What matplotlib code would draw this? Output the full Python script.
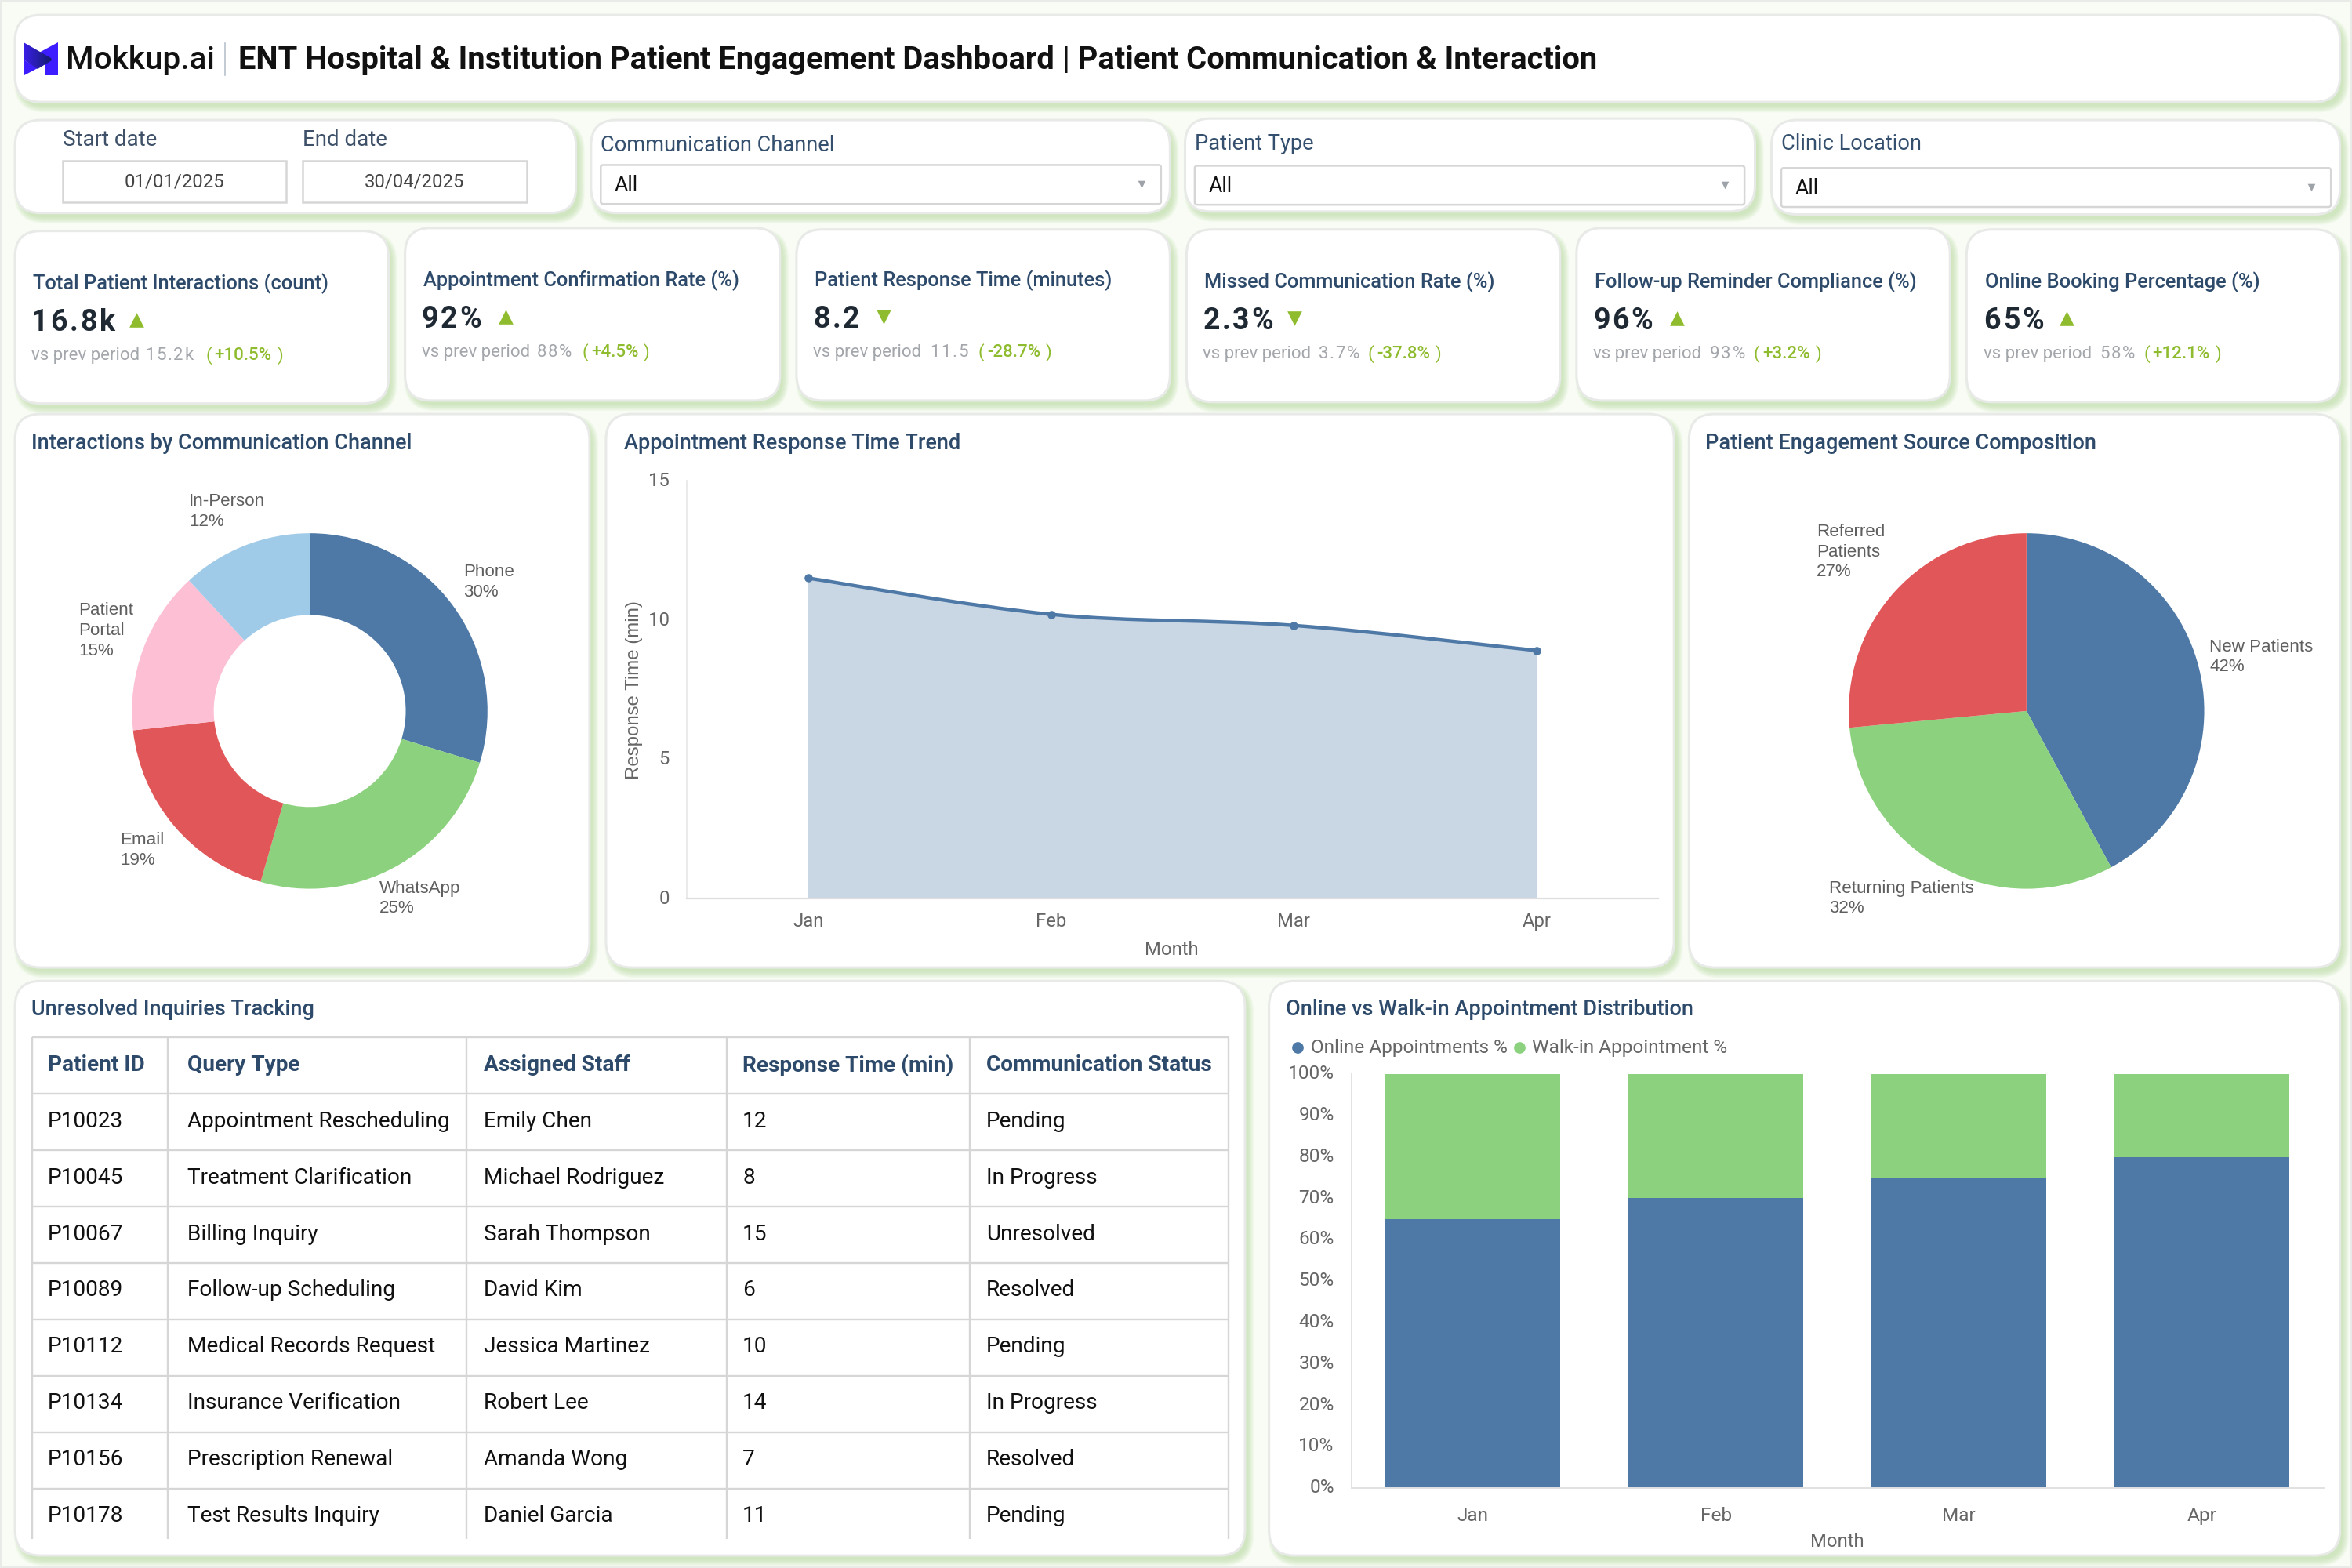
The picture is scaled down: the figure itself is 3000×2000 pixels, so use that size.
import numpy as np
import matplotlib
matplotlib.use("Agg")
import matplotlib.pyplot as plt
from matplotlib.patches import FancyBboxPatch, Rectangle, PathPatch, Polygon
from matplotlib.path import Path
from matplotlib.transforms import ScaledTranslation

plt.rcParams['font.family'] = ['Roboto', 'DejaVu Sans']

# data
kpi_titles = ["Total Patient Interactions (count)", "Appointment Confirmation Rate (%)",
              "Patient Response Time (minutes)", "Missed Communication Rate (%)",
              "Follow-up Reminder Compliance (%)", "Online Booking Percentage (%)"]
kpi_values = ["16.8k", "92%", "8.2", "2.3%", "96%", "65%"]
kpi_prev = ["15.2k", "88%", "11.5", "3.7%", "93%", "58%"]
kpi_change = ["+10.5%", "+4.5%", "-28.7%", "-37.8%", "+3.2%", "+12.1%"]
kpi_up = [True, True, False, False, True, True]

channel_names = ["Phone", "WhatsApp", "Email", "Patient\nPortal", "In-Person"]
channel_share = [30, 25, 19, 15, 12]
source_names = ["New Patients", "Returning Patients", "Referred\nPatients"]
source_share = [42.1, 31.4, 26.5]  # slice sizes as drawn
source_labels = ["42%", "32%", "27%"]  # as printed on the chart

months = ["Jan", "Feb", "Mar", "Apr"]
response_time = [11.5, 10.2, 9.8, 8.9]
online_pct = [65, 70, 75, 80]
walkin_pct = [35, 30, 25, 20]

table_header = ["Patient ID", "Query Type", "Assigned Staff", "Response Time (min)", "Communication Status"]
patient_ids = ["P10023", "P10045", "P10067", "P10089", "P10112", "P10134", "P10156", "P10178"]
query_types = ["Appointment Rescheduling", "Treatment Clarification", "Billing Inquiry", "Follow-up Scheduling",
               "Medical Records Request", "Insurance Verification", "Prescription Renewal", "Test Results Inquiry"]
staff = ["Emily Chen", "Michael Rodriguez", "Sarah Thompson", "David Kim",
         "Jessica Martinez", "Robert Lee", "Amanda Wong", "Daniel Garcia"]
resp_min = [12, 8, 15, 6, 10, 14, 7, 11]
status = ["Pending", "In Progress", "Unresolved", "Resolved", "Pending", "In Progress", "Resolved", "Pending"]

# colours
BLUE = "#4E79A7"
GREEN = "#8CD17D"
RED = "#E15759"
PINK = "#FCBFD3"
SKY = "#A0CBE8"
NAVY = "#2D4A6B"
ARROW = "#8FBC2E"
GRID = "#D6D6D6"

S = 3000 / 1568  # layout below is measured on a 1568 wide view

fig = plt.figure(figsize=(15, 10), dpi=200, facecolor="#F8FCF4")
page = fig.add_axes([0, 0, 1, 1])
page.set_xlim(0, 3000)
page.set_ylim(2000, 0)
page.axis("off")
page.add_patch(Rectangle((1, 1), 2998, 1998, fc="none", ec="#E8EBE7", lw=1.4))


def card(x0, y0, x1, y1, r=17):
    x0, y0, x1, y1, r = x0 * S, y0 * S, x1 * S, y1 * S, r * S
    w, h = x1 - x0, y1 - y0
    for k in range(7, 0, -1):
        grow = k * 1.3 - 3
        page.add_patch(FancyBboxPatch((x0 + 5 - grow, y0 + 7 - grow), w + 2 * grow, h + 2 * grow,
                                      boxstyle=f"round,pad=0,rounding_size={r + grow}",
                                      fc="#B5D89A", ec="none", alpha=0.11))
    page.add_patch(FancyBboxPatch((x0, y0), w, h, boxstyle=f"round,pad=0,rounding_size={r}",
                                  fc="white", ec="#E8EAE8", lw=1.1))


def txt(x, y, s, size=9, color="black", weight="normal", ha="left", va="center", family=None, **kw):
    if family is not None:
        kw["family"] = family
    return page.text(x * S, y * S, s, fontsize=size, color=color, fontweight=weight, ha=ha, va=va, **kw)


def spaced(x, y, s, gap, **kw):
    # letter-spaced text, one char at a time
    rend = fig.canvas.get_renderer()
    px = x * S
    for ch in s:
        t = txt(px / S, y, ch, **kw)
        px += t.get_window_extent(rend).width + gap
    return px / S


# cards
for box in [(10, 10, 1560, 68), (10, 80, 384, 142), (394, 80, 780, 142), (790, 79, 1170, 141), (1181, 80, 1560, 143),
            (10, 154, 259, 269), (270, 152, 520, 267), (531, 153, 780, 267), (791, 153, 1040, 268),
            (1051, 152, 1300, 267), (1311, 153, 1560, 268),
            (10, 276, 393, 645), (404, 276, 1116, 645), (1126, 276, 1560, 645),
            (10, 654, 830, 1037), (846, 654, 1560, 1037)]:
    card(*box)

# logo and header
grad = np.linspace(0, 1, 64).reshape(1, -1)
cm = matplotlib.colors.LinearSegmentedColormap.from_list("logo", ["#3A1FE8", "#141B6B"])
page.add_patch(Polygon([(74, 54), (74, 96), (58, 96), (58, 80), (50, 67)], fc="#3D1CFF", ec="none"))
page.add_patch(Polygon([(30, 76), (48, 87), (31, 96), (30, 95)], fc="#3D1CFF", ec="none"))
logo = Polygon([(30, 54), (65, 74), (66, 77), (48, 88), (30, 76)], transform=page.transData, fc="none", ec="none")
page.add_patch(logo)
im = page.imshow(grad, extent=(30, 66, 88, 54), cmap=cm, aspect="auto", zorder=3)
im.set_clip_path(logo)
page.set_xlim(0, 3000)
page.set_ylim(2000, 0)

txt(44, 40, "Mokkup.ai", size=14.6, weight="medium", color="#111111")
page.plot([150 * S, 150 * S], [29 * S, 50 * S], color="#B8C2CC", lw=0.6)
txt(159, 40, "ENT Hospital & Institution Patient Engagement Dashboard | Patient Communication & Interaction",
    size=14.38, weight="bold", color="#111111")

# date and filter slicers
for x, label, val in zip([42, 202], ["Start date", "End date"], ["01/01/2025", "30/04/2025"]):
    txt(x, 93.5, label, size=10, color="#3E5168")
    page.add_patch(Rectangle((x * S, 107 * S), 149 * S, 28 * S, fc="white", ec=GRID, lw=0.9))
    txt(x + 74.5, 121, val, size=8.6, color="#444444", ha="center")

filter_names = ["Communication Channel", "Patient Type", "Clinic Location"]
filter_x = [(400.5, 774), (796.5, 1163), (1187.5, 1554)]
filter_y = [(110, 136), (110.5, 136.5), (112, 138)]
filter_label_y = [97, 96, 96]
for name, (xa, xb), (ya, yb), ly in zip(filter_names, filter_x, filter_y, filter_label_y):
    txt(xa, ly, name, size=9.8, color="#34506E")
    page.add_patch(FancyBboxPatch((xa * S, ya * S), (xb - xa) * S, (yb - ya) * S,
                                  boxstyle="round,pad=0,rounding_size=3", fc="white", ec=GRID, lw=0.9))
    txt(xa + 9, (ya + yb) / 2 + 0.5, "All", size=9.6, color="#111111")
    page.scatter([(xb - 13) * S], [(ya + yb) / 2 * S], marker="v", s=12, color="#9EA2A9", linewidths=0)

# kpi cards
kpi_x = [22, 282, 543, 803, 1063, 1323.5]
kpi_title_y = [188.5, 186.5, 186.5, 187.5, 187.5, 187.5]
kpi_arrow_x = [91, 337, 589, 863, 1118, 1378]
kpi_prev_x = [97, 358, 620, 879, 1140, 1400]
kpi_change_x = [137, 388, 652, 912, 1169, 1429]
rend = fig.canvas.get_renderer()
for i in range(6):
    x, y = kpi_x[i], kpi_title_y[i]
    txt(x, y + 0.5, kpi_titles[i], size=9.15, weight="medium", color=NAVY)
    spaced(x - 1, y + 26.5, kpi_values[i], 2.8, size=13.5, weight="bold", color="#1F2933")
    page.scatter([kpi_arrow_x[i] * S], [(y + 24.5) * S], marker="^" if kpi_up[i] else "v", s=45,
                 color=ARROW, linewidths=0)
    txt(x - 1, y + 48.5, "vs prev period", size=8, color="#A3A6AB")
    spaced(kpi_prev_x[i], y + 48.5, kpi_prev[i], 1.6, size=8, color="#A3A6AB")
    txt(kpi_change_x[i], y + 48.5, "(", size=8, color=ARROW)
    change = txt(kpi_change_x[i] + 6, y + 48.5, kpi_change[i], size=8, weight="medium", color=ARROW)
    end = change.get_window_extent(rend).x1 / S
    txt(end + 3.5, y + 48.5, ")", size=8, color=ARROW)

# panel titles
panel_titles = ["Interactions by Communication Channel", "Appointment Response Time Trend",
                "Patient Engagement Source Composition", "Unresolved Inquiries Tracking",
                "Online vs Walk-in Appointment Distribution"]
panel_pos = [(21, 295.5), (416, 295.5), (1137, 295.5), (21, 673), (857, 673)]
for name, (x, y) in zip(panel_titles, panel_pos):
    txt(x, y, name, size=9.76, weight="medium", color=NAVY)


def inset(x0, y0, x1, y1):
    # chart axes placed by view coordinates
    a = fig.add_axes([x0 * S / 3000, 1 - y1 * S / 2000, (x1 - x0) * S / 3000, (y1 - y0) * S / 2000])
    a.patch.set_alpha(0)
    return a


def nudge_ylabels(a, pts):
    for lab in a.get_yticklabels():
        lab.set_transform(lab.get_transform() + ScaledTranslation(0, pts / 72, fig.dpi_scale_trans))


LAB = "Liberation Sans"

# donut
ax1 = inset(206.5 - 118.5, 474 - 118.5, 206.5 + 118.5, 474 + 118.5)
ax1.pie(channel_share, colors=[BLUE, GREEN, RED, PINK, SKY], startangle=90, counterclock=False,
        radius=1, wedgeprops=dict(width=0.46))
ax1.set_xlim(-1, 1)
ax1.set_ylim(-1, 1)
channel_label_pos = [(309, 388), (253, 599), (80, 567), (52.5, 420.5), (126, 341)]
for name, share, (x, y) in zip(channel_names, channel_share, channel_label_pos):
    txt(x, y, f"{name}\n{share}%", size=8.05, color="#5F5F5F", family=LAB, linespacing=1.3)

# source pie
ax3 = inset(1351 - 118.5, 474 - 118.5, 1351 + 118.5, 474 + 118.5)
ax3.pie(source_share, colors=[BLUE, GREEN, RED], startangle=90, counterclock=False, radius=1)
ax3.set_xlim(-1, 1)
ax3.set_ylim(-1, 1)
source_label_pos = [(1473, 438), (1219.5, 599), (1211, 368)]
for name, share, (x, y) in zip(source_names, source_labels, source_label_pos):
    txt(x, y, f"{name}\n{share}", size=8.05, color="#5F5F5F", family=LAB, linespacing=1.3)


def smooth_path(xs, ys):
    # catmull-rom style bezier through the points, like the curved line of the original
    pts = np.column_stack([xs, ys]).astype(float)
    verts, codes = [pts[0]], [Path.MOVETO]
    for i in range(len(pts) - 1):
        before = pts[max(i - 1, 0)]
        after = pts[min(i + 2, len(pts) - 1)]
        verts += [pts[i] + (pts[i + 1] - before) / 6, pts[i + 1] - (after - pts[i]) / 6, pts[i + 1]]
        codes += [Path.CURVE4] * 3
    return np.array(verts), codes


# area chart
ax2 = inset(457.8, 320.4, 1105.5, 599)
xs = np.arange(len(months))
v, c = smooth_path(xs, response_time)
fill_verts = np.vstack([v, [[xs[-1], 0], [xs[0], 0], [xs[0], response_time[0]]]])
ax2.add_patch(PathPatch(Path(fill_verts, c + [Path.LINETO] * 3), fc="#C9D6E4", ec="none"))
ax2.add_patch(PathPatch(Path(v, c), fc="none", ec=BLUE, lw=1.6))
ax2.plot(xs, response_time, "o", color=BLUE, ms=3.8, mec="none")
ax2.set_xlim(-0.5, 3.5)
ax2.set_ylim(0, 15)
ax2.set_xticks(xs, months)
ax2.set_yticks([0, 5, 10, 15])
ax2.tick_params(length=0, labelsize=8.6, labelcolor="#666666")
ax2.tick_params(axis="x", pad=6.5)
ax2.tick_params(axis="y", pad=8)
nudge_ylabels(ax2, 0.7)
for s in ["top", "right"]:
    ax2.spines[s].set_visible(False)
ax2.spines["left"].set_color("#E6E6E6")
ax2.spines["bottom"].set_color("#DEDEDE")
ax2.spines["left"].set_linewidth(0.6)
ax2.spines["bottom"].set_linewidth(0.8)
txt(781, 633, "Month", size=8.6, color="#666666", ha="center")
txt(423, 460, "Response Time (min)", size=8.65, color="#666666", ha="center", rotation=90, family=LAB)

# table
col_lines = [21.5, 112, 311, 484.5, 646.5, 819]
row_lines = [691.5, 729] + [729 + 37.63 * k for k in range(1, 8)]
table_top, table_clip = 691.5, 1026
col_x = [32, 125, 322.5, 495, 657.5]
for x in col_lines:
    page.plot([x * S, x * S], [table_top * S, table_clip * S], color=GRID, lw=0.85, solid_capstyle="butt")
for y in row_lines:
    page.plot([col_lines[0] * S, col_lines[-1] * S], [y * S, y * S], color=GRID, lw=0.85, solid_capstyle="butt")
for x, name in zip(col_x, table_header):
    txt(x, 710, name, size=10.08, weight="bold", color=NAVY)
for r in range(len(patient_ids)):
    y = 747.5 + 37.6 * r
    row = [patient_ids[r], query_types[r], staff[r], str(resp_min[r]), status[r]]
    for x, cell in zip(col_x, row):
        txt(x, y, cell, size=10.1, color="#111111")

# stacked bars
ax5 = inset(901, 716, 1549, 992)
bx = np.arange(len(months))
ax5.bar(bx, online_pct, width=0.72, color=BLUE, label="Online Appointments %")
ax5.bar(bx, walkin_pct, width=0.72, bottom=online_pct, color=GREEN, label="Walk-in Appointment %")
ax5.set_xlim(-0.5, 3.5)
ax5.set_ylim(0, 100)
ax5.set_xticks(bx, months)
ax5.set_yticks(range(0, 101, 10), [f"{p}%" for p in range(0, 101, 10)])
ax5.tick_params(length=0, labelsize=8.8, labelcolor="#666666")
ax5.tick_params(axis="x", pad=8.6)
ax5.tick_params(axis="y", pad=8)
nudge_ylabels(ax5, 1.0)
for s in ["top", "right"]:
    ax5.spines[s].set_visible(False)
ax5.spines["left"].set_color("#E2E2E2")
ax5.spines["bottom"].set_color("#E2E2E2")
ax5.spines["left"].set_linewidth(0.7)
ax5.spines["bottom"].set_linewidth(0.7)
txt(1225, 1028, "Month", size=8.6, color="#666666", ha="center")

legend_pos = [(865, 874), (1013, 1021.5)]
for (mx, tx), name, col in zip(legend_pos, ["Online Appointments %", "Walk-in Appointment %"], [BLUE, GREEN]):
    page.scatter([mx * S], [698.5 * S], s=28, color=col, linewidths=0)
    txt(tx, 698.5, name, size=8.8, color="#666666")

plt.savefig("out.png", dpi=200, facecolor=fig.get_facecolor())
